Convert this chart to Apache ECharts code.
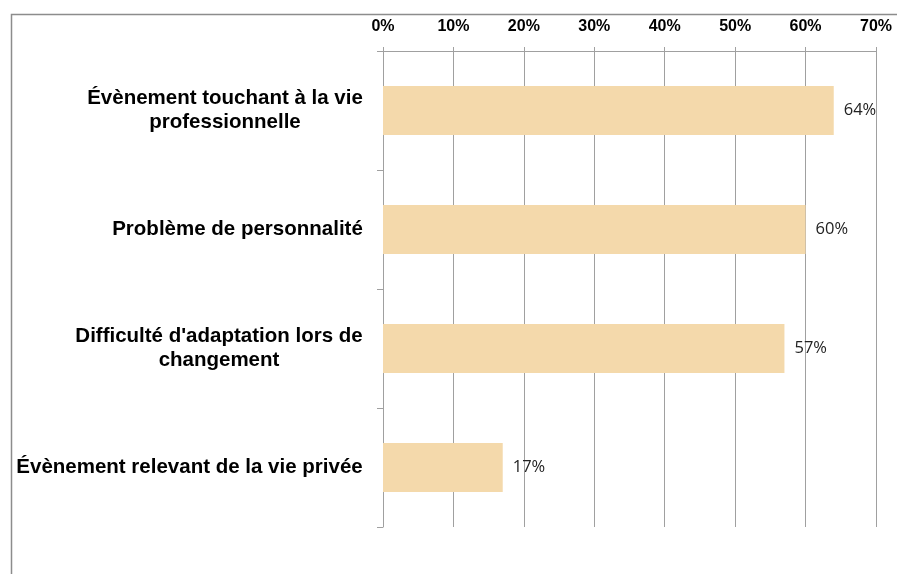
<!DOCTYPE html>
<html>
<head>
<meta charset="utf-8">
<script src="https://cdn.jsdelivr.net/npm/echarts@6/dist/echarts.min.js"></script>
<style>
  html, body { margin: 0; padding: 0; background: #fff; }
  #chart { width: 897px; height: 574px; }
</style>
</head>
<body>
<div id="chart"></div>
<script>
const categories = [
  'Évènement touchant à la vie\nprofessionnelle',
  'Problème de personnalité',
  "Difficulté d'adaptation lors de\nchangement",
  'Évènement relevant de la vie privée'
]
const values = [64, 60, 57, 17]
const tickMax = 70
const tickStep = 10

const labelSize = 20.5
const labelFont = 'bold ' + labelSize + 'px "Liberation Sans", Arial, sans-serif'

// largeur de la plus longue ligne de chaque libellé (pour centrer les lignes)
function lineWidths () {
  const ctx = document.createElement('canvas').getContext('2d')
  ctx.font = labelFont
  return categories.map(c => Math.ceil(Math.max(...c.split('\n').map(l => ctx.measureText(l).width))))
}

function initChart () {
  const dom = echarts.init(document.getElementById('chart'))
  const widths = lineWidths()
  const rich = {}
  widths.forEach((w, i) => {
    rich['c' + i] = {
      width: w,
      align: 'center',
      fontFamily: '"Liberation Sans", Arial, sans-serif',
      fontWeight: 'bold',
      fontSize: labelSize,
      lineHeight: 24,
      color: '#000'
    }
  })

  const option = {
    animation: false,
    backgroundColor: '#fff',
    graphic: [{
      type: 'rect',
      left: 9,
      top: 12,
      shape: { width: 920, height: 600 },
      style: { fill: 'none', stroke: '#8c8c8c', lineWidth: 1.5 },
      z: 0
    }],
    grid: { left: 383, top: 51, right: 21, bottom: 47 },
    xAxis: {
      type: 'value',
      position: 'top',
      min: 0,
      max: tickMax,
      interval: tickStep,
      axisLine: { show: true, lineStyle: { color: '#a0a0a0', width: 1 } },
      axisTick: { show: true, length: 4, lineStyle: { color: '#a0a0a0' } },
      splitLine: { show: true, lineStyle: { color: '#a0a0a0', width: 1 } },
      axisLabel: {
        formatter: '{value}%',
        color: '#000',
        fontFamily: '"Liberation Sans", Arial, sans-serif',
        fontWeight: 'bold',
        fontSize: 16,
        margin: 16
      }
    },
    yAxis: {
      type: 'category',
      inverse: true,
      data: categories,
      axisLine: { show: true, lineStyle: { color: '#a0a0a0', width: 1 } },
      axisTick: { show: true, length: 6, lineStyle: { color: '#a0a0a0' } },
      axisLabel: {
        margin: 20,
        align: 'right',
        formatter: function (val, idx) {
          return val.split('\n').map(l => '{c' + idx + '|' + l + '}').join('\n')
        },
        rich: rich
      }
    },
    series: [{
      type: 'bar',
      data: values,
      barWidth: 49,
      itemStyle: { color: '#f4d9ab' },
      label: {
        show: true,
        position: 'right',
        distance: 10,
        formatter: '{c}%',
        color: '#222',
        fontFamily: '"Open Sans", "Liberation Sans", sans-serif',
        fontSize: 16.5
      }
    }]
  }
  dom.setOption(option)
}

initChart()
</script>
</body>
</html>
